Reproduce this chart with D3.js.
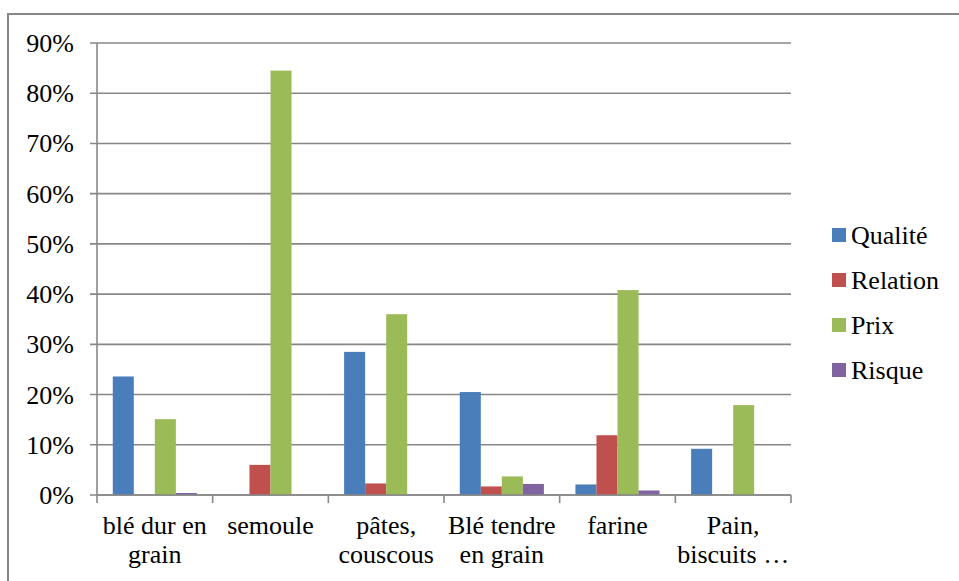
<!DOCTYPE html>
<html>
<head>
<meta charset="utf-8">
<script src="https://cdn.jsdelivr.net/npm/d3@7"></script>
</head>
<body style="margin:0">
<svg id="chart" width="959" height="581"></svg>
<script>
// categories and series values (in %)
var categories = [["blé dur en", "grain"], ["semoule"], ["pâtes,", "couscous"], ["Blé tendre", "en grain"], ["farine"], ["Pain,", "biscuits …"]];
var seriesNames = ["Qualité", "Relation", "Prix", "Risque"];
var qualite = [23.6, 0, 28.5, 20.5, 2.1, 9.2];
var relation = [0, 6.0, 2.3, 1.7, 11.9, 0];
var prix = [15.1, 84.5, 36.0, 3.7, 40.8, 17.9];
var risque = [0.4, 0, 0, 2.2, 0.9, 0];
var yTicks = [0, 10, 20, 30, 40, 50, 60, 70, 80, 90];
var colors = ["#4A7EBB", "#C0504D", "#9BBB59", "#8064A2"];

var svg = d3.select("#chart");
var margin = { top: 43, left: 97, right: 168, bottom: 86 };
var width = 959;
var height = 581;
var innerW = width - margin.left - margin.right;
var innerH = height - margin.top - margin.bottom;
var gridColor = "#878787";
var fontFam = "Liberation Serif";

// outer frame
svg.append("rect")
  .attr("x", 8).attr("y", 14)
  .attr("width", 960).attr("height", 600)
  .attr("fill", "none")
  .attr("stroke", gridColor)
  .attr("stroke-width", 2);

var g = svg.append("g").attr("transform", `translate(${margin.left},${margin.top})`);

var x0 = d3.scaleBand().domain(d3.range(categories.length)).range([0, innerW]);
// 4 bars + 150% gap
var x1 = d3.scaleBand().domain(d3.range(seriesNames.length)).range([0, x0.bandwidth()]).paddingOuter(0.75);
var y = d3.scaleLinear().domain([0, 90]).range([innerH, 0]);

// gridlines
g.append("g")
  .selectAll("line")
  .data(yTicks)
  .join("line")
  .attr("x1", -7).attr("x2", innerW)
  .attr("y1", d => y(d)).attr("y2", d => y(d))
  .attr("stroke", gridColor)
  .attr("stroke-width", 1.6);

// y axis line
g.append("line")
  .attr("x1", 0).attr("x2", 0)
  .attr("y1", 0).attr("y2", innerH)
  .attr("stroke", gridColor).attr("stroke-width", 1.6);

// y labels
g.append("g")
  .selectAll("text")
  .data(yTicks)
  .join("text")
  .attr("x", -23)
  .attr("y", d => y(d) + 9)
  .attr("text-anchor", "end")
  .attr("font-size", 26)
  .style("font-family", fontFam)
  .text(d => d + "%");

// bars
var data = [qualite, relation, prix, risque];
categories.forEach(function(c, i) {
  var cg = g.append("g").attr("transform", `translate(${x0(i)},0)`);
  cg.selectAll("rect")
    .data(data.map((s, k) => ({ k: k, v: s[i] })))
    .join("rect")
    .attr("x", d => x1(d.k))
    .attr("width", x1.bandwidth())
    .attr("y", d => y(d.v))
    .attr("height", d => innerH - y(d.v))
    .attr("fill", d => colors[d.k]);
});

// x axis
g.append("line")
  .attr("x1", 0).attr("x2", innerW)
  .attr("y1", innerH).attr("y2", innerH)
  .attr("stroke", gridColor).attr("stroke-width", 1.6);
g.append("g")
  .selectAll("line")
  .data(d3.range(categories.length + 1))
  .join("line")
  .attr("x1", d => d * x0.step()).attr("x2", d => d * x0.step())
  .attr("y1", innerH).attr("y2", innerH + 8)
  .attr("stroke", gridColor).attr("stroke-width", 1.6);

// category labels, one text per line
categories.forEach(function(lines, i) {
  lines.forEach(function(line, j) {
    g.append("text")
      .attr("x", x0(i) + x0.bandwidth() / 2)
      .attr("y", innerH + 39 + j * 28.5)
      .attr("text-anchor", "middle")
      .attr("font-size", 26)
      .style("font-family", fontFam)
      .text(line);
  });
});

// legend
var legend = svg.append("g").attr("transform", "translate(832,228)");
seriesNames.forEach(function(name, i) {
  legend.append("rect")
    .attr("y", i * 45)
    .attr("width", 14).attr("height", 14)
    .attr("fill", colors[i]);
  legend.append("text")
    .attr("x", 19)
    .attr("y", i * 45 + 16)
    .attr("font-size", 26)
    .style("font-family", fontFam)
    .text(name);
});
</script>
</body>
</html>
